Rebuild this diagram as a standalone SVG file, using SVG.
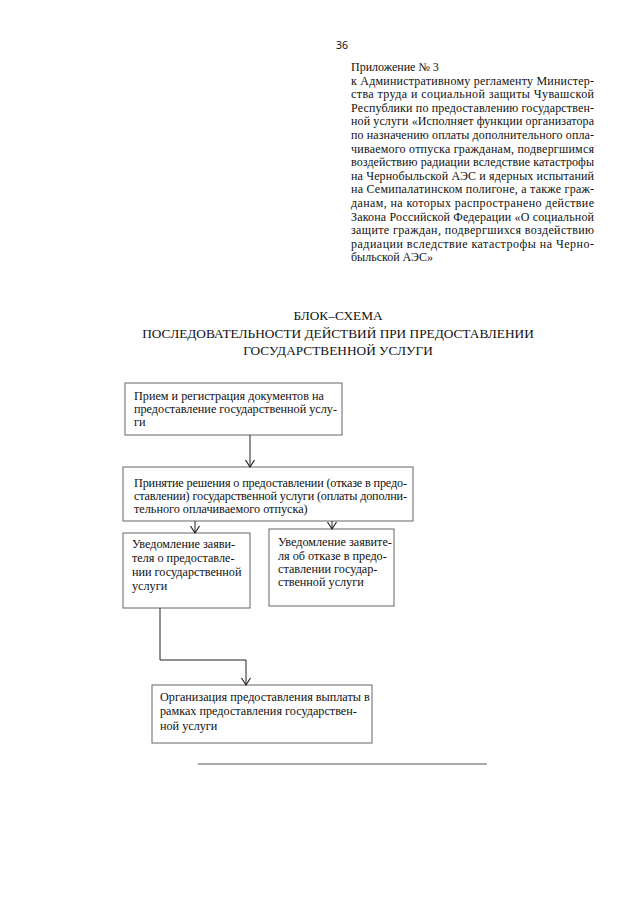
<svg xmlns="http://www.w3.org/2000/svg" width="640" height="904" viewBox="0 0 640 904">
<style>
.t{font-family:"Liberation Serif","Times New Roman",serif;font-size:12px;fill:#111}
.h{font-family:"Liberation Serif","Times New Roman",serif;font-size:13.3px;fill:#111;text-anchor:middle}
.b{font-family:"Liberation Serif","Times New Roman",serif;font-size:12.2px;fill:#111}
.box{fill:#fff;stroke:#666;stroke-width:1}
.c{fill:none;stroke:#222;stroke-width:1}
</style>
<defs>
<marker id="arr" markerWidth="12" markerHeight="12" refX="9" refY="6" orient="auto" markerUnits="userSpaceOnUse" viewBox="0 0 12 12">
<polyline points="2,1.5 9,6 2,10.5" fill="none" stroke="#222" stroke-width="1.2"/>
</marker>
</defs>
<rect width="640" height="904" fill="#fff"/>
<g id="header">
<text x="336" y="49" style="font-family:'Noto Sans','Open Sans',sans-serif;font-size:10.5px;fill:#111">36</text>
<text class="t" x="351" y="71">Приложение № 3</text>
<text class="t" x="351" y="84.6" textLength="243" lengthAdjust="spacing">к Административному регламенту Министер-</text>
<text class="t" x="351" y="98.2" textLength="243" lengthAdjust="spacing">ства труда и социальной защиты Чувашской</text>
<text class="t" x="351" y="111.8" textLength="243" lengthAdjust="spacing">Республики по предоставлению государствен-</text>
<text class="t" x="351" y="125.4" textLength="243" lengthAdjust="spacing">ной услуги «Исполняет функции организатора</text>
<text class="t" x="351" y="139" textLength="243" lengthAdjust="spacing">по назначению оплаты дополнительного опла-</text>
<text class="t" x="351" y="152.6" textLength="243" lengthAdjust="spacing">чиваемого отпуска гражданам, подвергшимся</text>
<text class="t" x="351" y="166.2" textLength="243" lengthAdjust="spacing">воздействию радиации вследствие катастрофы</text>
<text class="t" x="351" y="179.8" textLength="243" lengthAdjust="spacing">на Чернобыльской АЭС и ядерных испытаний</text>
<text class="t" x="351" y="193.4" textLength="243" lengthAdjust="spacing">на Семипалатинском полигоне, а также граж-</text>
<text class="t" x="351" y="207" textLength="243" lengthAdjust="spacing">данам, на которых распространено действие</text>
<text class="t" x="351" y="220.6" textLength="243" lengthAdjust="spacing">Закона Российской Федерации «О социальной</text>
<text class="t" x="351" y="234.2" textLength="243" lengthAdjust="spacing">защите граждан, подвергшихся воздействию</text>
<text class="t" x="351" y="247.8" textLength="243" lengthAdjust="spacing">радиации вследствие катастрофы на Черно-</text>
<text class="t" x="351" y="261.4">быльской АЭС»</text>
</g>
<g id="title">
<text class="h" x="338" y="320">БЛОК–СХЕМА</text>
<text class="h" x="338" y="338">ПОСЛЕДОВАТЕЛЬНОСТИ ДЕЙСТВИЙ ПРИ ПРЕДОСТАВЛЕНИИ</text>
<text class="h" x="338" y="355">ГОСУДАРСТВЕННОЙ УСЛУГИ</text>
</g>
<g id="n1">
<rect class="box" x="125" y="383" width="217" height="52"/>
<text class="b" x="134" y="400">Прием и регистрация документов на</text>
<text class="b" x="134" y="413">предоставление государственной услу-</text>
<text class="b" x="134" y="426">ги</text>
</g>
<g id="n2">
<rect class="box" x="123" y="467" width="290" height="54"/>
<text class="b" x="134" y="487" textLength="273" lengthAdjust="spacing">Принятие решения о предоставлении (отказе в предо-</text>
<text class="b" x="134" y="500" textLength="273" lengthAdjust="spacing">ставлении) государственной услуги (оплаты дополни-</text>
<text class="b" x="134" y="513">тельного оплачиваемого отпуска)</text>
</g>
<g id="n3">
<rect class="box" x="123" y="533" width="127" height="75"/>
<text class="b" x="132" y="548">Уведомление заяви-</text>
<text class="b" x="132" y="562">теля о предоставле-</text>
<text class="b" x="132" y="576">нии государственной</text>
<text class="b" x="132" y="590">услуги</text>
</g>
<g id="n4">
<rect class="box" x="269" y="529" width="125" height="77"/>
<text class="b" x="278" y="546">Уведомление заявите-</text>
<text class="b" x="278" y="560">ля об отказе в предо-</text>
<text class="b" x="278" y="573">ставлении государ-</text>
<text class="b" x="278" y="586">ственной услуги</text>
</g>
<g id="n5">
<rect class="box" x="152" y="685" width="220" height="58"/>
<text class="b" x="160" y="701">Организация предоставления выплаты в</text>
<text class="b" x="160" y="715">рамках предоставления государствен-</text>
<text class="b" x="160" y="730">ной услуги</text>
</g>
<g id="connectors">
<line class="c" x1="250" y1="435" x2="250" y2="467" marker-end="url(#arr)"/>
<line class="c" x1="195" y1="521" x2="195" y2="533" marker-end="url(#arr)"/>
<line class="c" x1="332" y1="521" x2="332" y2="529" marker-end="url(#arr)"/>
<polyline class="c" points="160,608 160,660 246,660 246,685" marker-end="url(#arr)"/>
</g>
<line x1="198" y1="764" x2="487" y2="764" stroke="#555" stroke-width="1.2"/>
</svg>
